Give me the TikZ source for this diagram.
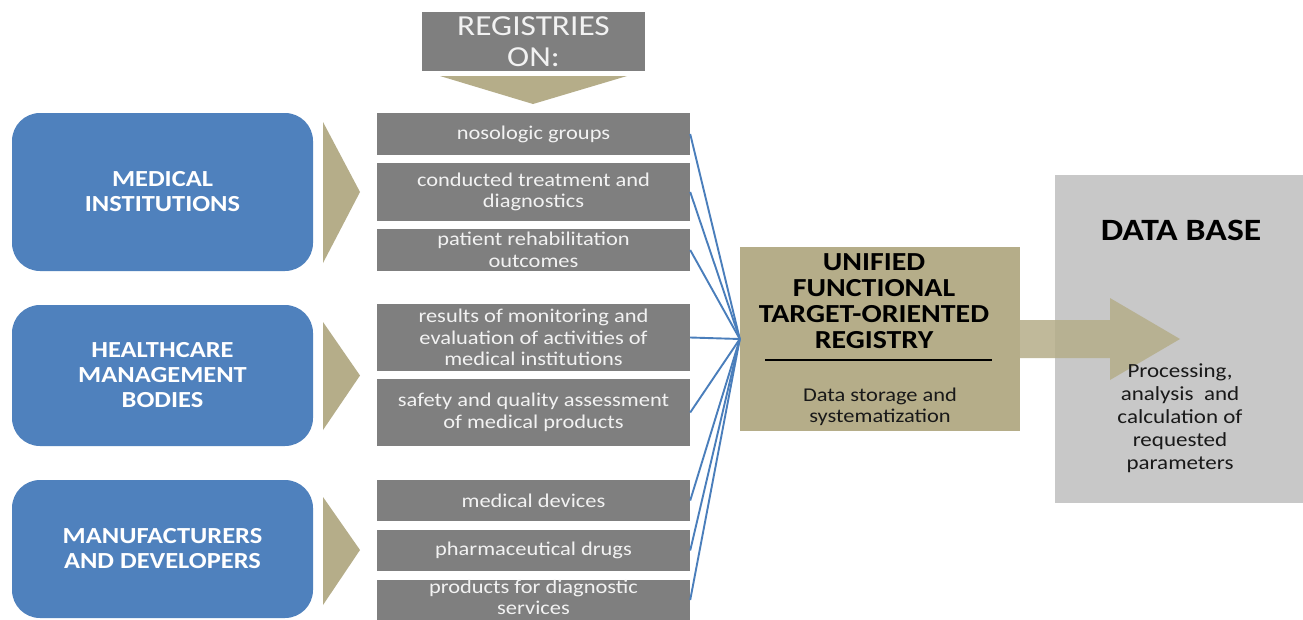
\documentclass[tikz,border=0pt]{standalone}
\usepackage{fontspec}
\setmainfont{Carlito}[FakeStretch=1.15]
\usetikzlibrary{calc}

\definecolor{srcblue}{HTML}{4F81BD}
\definecolor{linkblue}{HTML}{4A7EBB}
\definecolor{itemgrey}{HTML}{7F7F7F}
\definecolor{itemtext}{HTML}{F2F2F2}
\definecolor{tanfill}{RGB}{181,173,137}
\definecolor{dbgrey}{RGB}{200,200,200}

\begin{document}
\begin{tikzpicture}[x=1pt,y=-1pt,
  source/.style={rectangle, rounded corners=28pt, fill=srcblue, text=white,
    font=\bfseries\fontsize{23}{25}\selectfont, align=center,
    minimum width=301pt, inner sep=0pt},
  item/.style={rectangle, fill=itemgrey, text=itemtext,
    font=\fontsize{19.5}{21.5}\selectfont, align=center,
    minimum width=313pt, inner sep=0pt},
  chevron/.style={fill=tanfill},
  link/.style={draw=linkblue, line width=1.9pt},
  plain/.style={inner sep=0pt, align=center}
]
\clip (0,0) rectangle (1303,619);
\fill[white] (0,0) rectangle (1303,619);

% heading and the chevron under it
\node[rectangle, fill=itemgrey, text=itemtext, inner sep=0pt, align=center,
  minimum width=223pt, minimum height=59pt,
  font=\fontsize{29}{31}\selectfont] (reg) at (533.5,41.5) {REGISTRIES\\ON:};
\fill[chevron] (440,76) -- (627,76) -- (533,104) -- cycle;

% data sources
\node[source, minimum height=158pt] (med) at (162.5,192) {MEDICAL\\INSTITUTIONS};
\node[source, minimum height=141pt] (hc)  at (162.5,375.5) {HEALTHCARE\\MANAGEMENT\\BODIES};
\node[source, minimum height=138pt] (man) at (162.5,549) {MANUFACTURERS\\AND DEVELOPERS};

\fill[chevron] (323,122) -- (360,192) -- (323,263) -- cycle;
\fill[chevron] (323,322) -- (360,375.5) -- (323,430) -- cycle;
\fill[chevron] (323,497) -- (360,550) -- (323,605) -- cycle;

% registry topics
\node[item, minimum height=42pt] (g1) at (533.5,134) {nosologic groups};
\node[item, minimum height=58pt] (g2) at (533.5,192) {conducted treatment and\\diagnostics};
\node[item, minimum height=42pt] (g3) at (533.5,250) {patient rehabilitation\\outcomes};
\node[item, minimum height=67pt] (g4) at (533.5,337.5) {results of monitoring and\\evaluation of activities of\\medical institutions};
\node[item, minimum height=67pt] (g5) at (533.5,412.5) {safety and quality assessment\\of medical products};
\node[item, minimum height=41pt] (g6) at (533.5,500.5) {medical devices};
\node[item, minimum height=41pt] (g7) at (533.5,550.5) {pharmaceutical drugs};
\node[item, minimum height=40pt] (g8) at (533.5,600) {};
\node[plain, text=itemtext, font=\fontsize{19.5}{21}\selectfont] (g8t) at (533.5,597)
  {products for diagnostic\\services};

% unified registry
\node[rectangle, fill=tanfill, minimum width=280pt, minimum height=184pt,
  inner sep=0pt] (u) at (880,339) {};
\node[plain, font=\bfseries\fontsize{26}{26}\selectfont] (ut) at (874,301)
  {UNIFIED\\FUNCTIONAL\\TARGET-ORIENTED\\REGISTRY};
\coordinate (rl) at (765,360);
\coordinate (rr) at (992,360);
\draw[line width=2pt, black] (rl) -- (rr);
\node[plain, font=\fontsize{19.5}{21}\selectfont, text=black!90] (us) at (880,407)
  {Data storage and\\systematization};

% links into the registry
\foreach \g in {g1,g2,g3,g4,g5,g6,g7,g8}
  \draw[link] (\g.east) -- (u.west);

% data base
\node[rectangle, fill=dbgrey, minimum width=260pt, minimum height=328pt,
  inner sep=0pt, anchor=north west] (db) at (1055,175) {};
\node[plain, font=\bfseries\fontsize{31}{31}\selectfont] (dbt) at (1181,230) {DATA BASE};

% transfer arrow
\fill[tanfill, opacity=0.85] (1020,320) -- (1110,320) -- (1110,298) -- (1180,339)
  -- (1110,380) -- (1110,358) -- (1020,358) -- cycle;

\node[plain, font=\fontsize{20}{23}\selectfont, text=black!90] (dbs) at (1180,418)
  {Processing,\\analysis\ \ and\\calculation of\\requested\\parameters};
\end{tikzpicture}
\end{document}
